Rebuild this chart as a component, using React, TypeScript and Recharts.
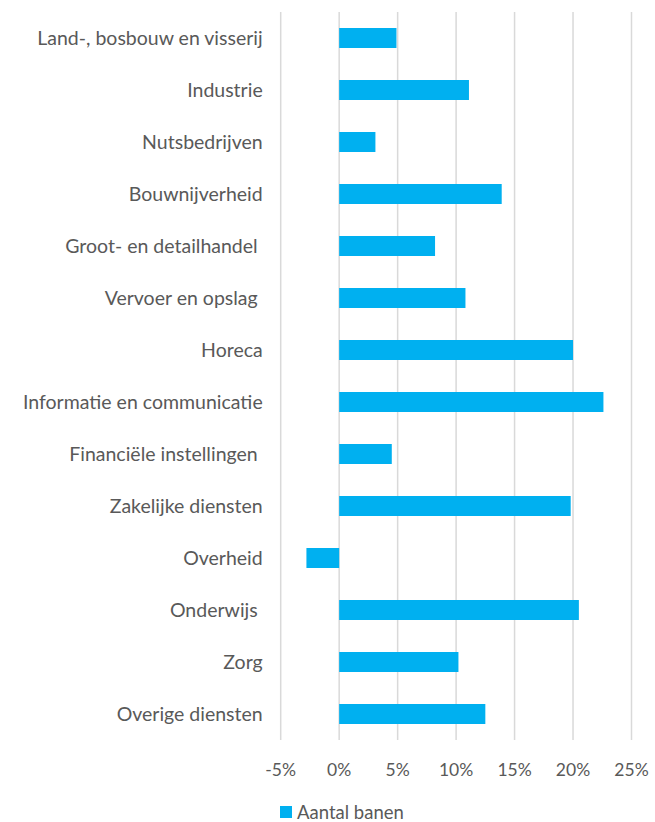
import React from 'react';
import { BarChart, Bar, XAxis, YAxis, CartesianGrid, Legend } from 'recharts';

const categories = [
  'Land-, bosbouw en visserij',
  'Industrie',
  'Nutsbedrijven',
  'Bouwnijverheid',
  'Groot- en detailhandel ',
  'Vervoer en opslag ',
  'Horeca',
  'Informatie en communicatie',
  'Financiële instellingen ',
  'Zakelijke diensten',
  'Overheid',
  'Onderwijs ',
  'Zorg',
  'Overige diensten',
];
const aantalBanen = [4.9, 11.1, 3.1, 13.9, 8.2, 10.8, 20.0, 22.6, 4.5, 19.8, -2.8, 20.5, 10.2, 12.5];
const xTicks = [-5, 0, 5, 10, 15, 20, 25];
const seriesName = 'Aantal banen';

const data = categories.map((c, i) => ({ name: c, value: aantalBanen[i] }));

const FONT = 'Lato, "Open Sans", sans-serif';
const TEXT = '#595959';
const BLUE = '#00B0F0';

const YTick = (props: any) => {
  const { x, y, payload } = props;
  return (
    <text x={x} y={y} dy="0.35em" textAnchor="end" fill={TEXT} fontSize={19.5} fontFamily={FONT} style={{ whiteSpace: 'pre' }}>
      {payload.value}
    </text>
  );
};

const LegendContent = () => (
  <div style={{ display: 'flex', alignItems: 'center', fontFamily: FONT, fontSize: 18.5, lineHeight: '20px', color: TEXT, height: 20 }}>
    <span style={{ display: 'inline-block', width: 12, height: 12, background: BLUE, marginRight: 5 }} />
    <span>{seriesName}</span>
  </div>
);

export default function App() {
  return (
    <div style={{ position: 'absolute', left: 0, top: 0, width: 655, height: 822 }}>
      <BarChart
        width={655}
        height={822}
        data={data}
        layout="vertical"
        margin={{ top: 12, right: 23.5, bottom: 0, left: 0 }}
        barSize={20}
      >
        <CartesianGrid horizontal={false} vertical stroke="#D9D9D9" strokeWidth={1.5} />
        <XAxis
          type="number"
          domain={[-5, 25]}
          ticks={xTicks}
          tickFormatter={(v: number) => `${v}%`}
          axisLine={false}
          tickLine={false}
          tickMargin={18}
          height={62}
          tick={{ fill: TEXT, fontSize: 17.5, fontFamily: FONT }}
          interval={0}
        />
        <YAxis
          type="category"
          dataKey="name"
          width={280.7}
          axisLine={false}
          tickLine={false}
          tickMargin={12}
          tick={<YTick />}
          interval={0}
        />
        <Legend
          verticalAlign="bottom"
          align="left"
          content={<LegendContent />}
          wrapperStyle={{ left: 280, bottom: 0, height: 20, width: 200 }}
        />
        <Bar dataKey="value" name={seriesName} fill={BLUE} isAnimationActive={false} />
      </BarChart>
    </div>
  );
}
